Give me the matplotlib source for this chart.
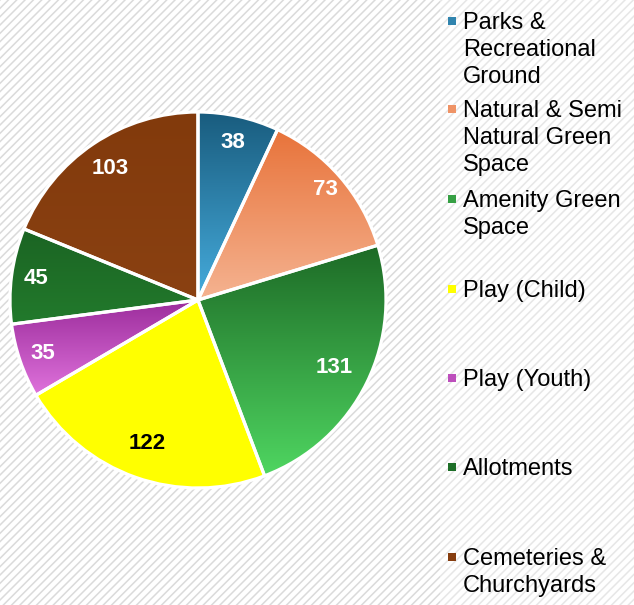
import numpy as np
import matplotlib
matplotlib.use("Agg")
import matplotlib.pyplot as plt
from matplotlib.colors import LinearSegmentedColormap, to_rgb
from matplotlib.patches import Rectangle

# ---------------------------------------------------------------------------
# Data
# ---------------------------------------------------------------------------
categories = [
    "Parks &\nRecreational\nGround",
    "Natural & Semi\nNatural Green\nSpace",
    "Amenity Green\nSpace",
    "Play (Child)",
    "Play (Youth)",
    "Allotments",
    "Cemeteries &\nChurchyards",
]
values = [38, 73, 131, 122, 35, 45, 103]

# (top colour, bottom colour) of each wedge's vertical gradient
gradients = [
    ("#195c7e", "#46acdd"),
    ("#e8733a", "#f5b391"),
    ("#1d6a26", "#4fd661"),
    ("#ffff00", "#ffff00"),
    ("#9b2c9b", "#df72dc"),
    ("#1b6423", "#227a2c"),
    ("#823a0c", "#8a4112"),
]
label_colors = ["white", "white", "white", "black", "white", "white", "white"]
label_radius = [0.86, 0.90, 0.81, 0.81, 0.87, 0.87, 0.84]

W, H = 634, 605
CX, CY, R = 198, 300, 188          # pie centre / radius in pixels

plt.rcParams["font.family"] = ["Liberation Sans", "DejaVu Sans"]
plt.rcParams["hatch.color"] = "#dadada"
plt.rcParams["hatch.linewidth"] = 1.1

fig = plt.figure(figsize=(W / 100, H / 100), dpi=100)
fig.patch.set_facecolor("white")

# diagonal striped background
fig.patches.append(Rectangle((0, 0), 1, 1, transform=fig.transFigure,
                             facecolor="white", edgecolor="#dadada",
                             hatch="////", linewidth=0, zorder=-2))
fig.patches.append(Rectangle((440 / W, 0), 1, 1, transform=fig.transFigure,
                             facecolor="white", alpha=0.35, linewidth=0,
                             zorder=-1))

# ---------------------------------------------------------------------------
# Pie
# ---------------------------------------------------------------------------
ax = fig.add_axes([(CX - R) / W, (H - CY - R) / H, 2 * R / W, 2 * R / H])
ax.set_facecolor("none")
wedges, _ = ax.pie(values, startangle=90, counterclock=False, radius=1,
                   colors=["none"] * len(values),
                   wedgeprops=dict(edgecolor="white", linewidth=2.3))

for w, (top, bot), val, lc, lr in zip(wedges, gradients, values,
                                      label_colors, label_radius):
    ext = w.get_path().get_extents()
    cmap = LinearSegmentedColormap.from_list("g", [to_rgb(top), to_rgb(bot)])
    grad = np.linspace(0, 1, 256).reshape(-1, 1)
    im = ax.imshow(grad, cmap=cmap, aspect="auto", origin="upper",
                   extent=[ext.x0, ext.x1, ext.y0, ext.y1], zorder=1)
    im.set_clip_path(w)
    w.set_zorder(2)

    ang = np.deg2rad((w.theta1 + w.theta2) / 2)
    ax.text(lr * np.cos(ang), lr * np.sin(ang), str(val),
            ha="center", va="center", fontsize=16, fontweight="bold",
            color=lc, zorder=3)

ax.set_xlim(-1, 1)
ax.set_ylim(-1, 1)
ax.set_aspect("equal")
ax.axis("off")

# ---------------------------------------------------------------------------
# Legend (manual, evenly spaced entries)
# ---------------------------------------------------------------------------
entry_y = [21, 109, 199, 289, 378, 467, 557]   # centre of first line, px from top
for name, (top, bot), y in zip(categories, gradients, entry_y):
    mid = tuple((np.array(to_rgb(top)) + np.array(to_rgb(bot))) / 2)
    fig.patches.append(Rectangle((448 / W, (H - y - 3.5) / H), 7.5 / W, 7.5 / H,
                                 transform=fig.transFigure, facecolor=mid,
                                 edgecolor="none"))
    fig.text(463 / W, (H - y + 9) / H, name, ha="left", va="top",
             fontsize=17, color="black", linespacing=1.3)

fig.savefig("out.png", dpi=100)
